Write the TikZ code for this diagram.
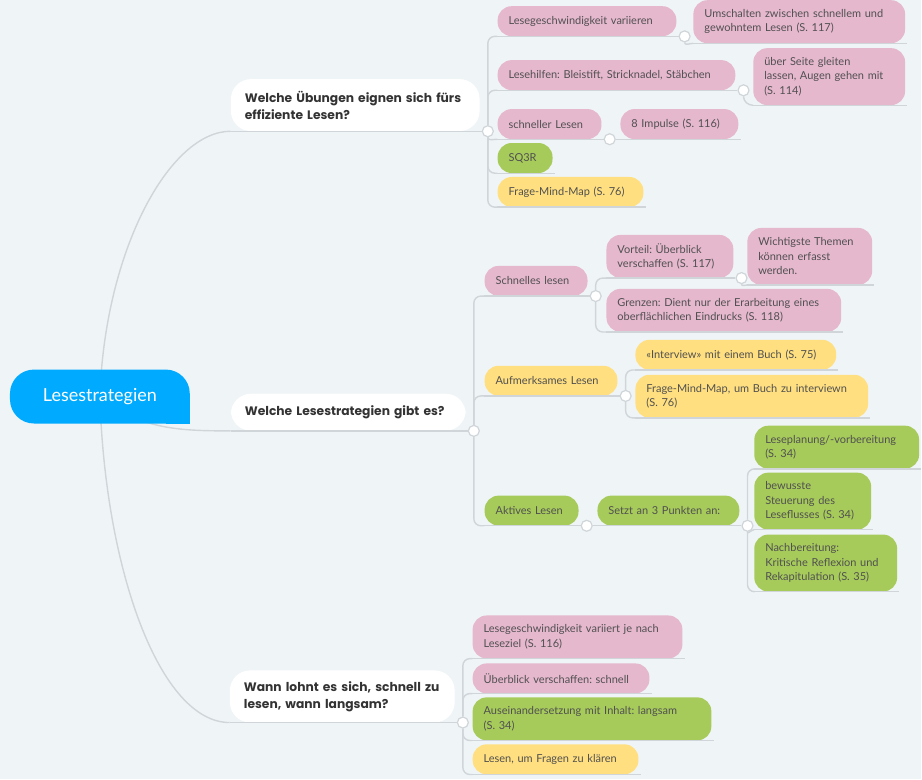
\documentclass[tikz,border=0pt]{standalone}
\usepackage{fontspec}
\setmainfont{Lato}
\newfontfamily\qfont{Poppins}
\frenchspacing
\usetikzlibrary{positioning}
\definecolor{bgcol}{RGB}{239,244,247}
\definecolor{pinkcol}{RGB}{230,184,206}
\definecolor{greencol}{RGB}{167,203,91}
\definecolor{yellowcol}{RGB}{255,223,128}
\definecolor{rootblue}{RGB}{0,170,255}
\definecolor{linecol}{RGB}{208,213,217}
\definecolor{textgray}{RGB}{80,80,80}

\begin{document}
\begin{tikzpicture}[x=1pt, y=-1pt,
    topic/.style={anchor=north west, rounded corners=14pt, inner xsep=11pt, inner ysep=2pt,
      align=left, text=textgray, font=\fontsize{11}{14.5}\selectfont},
    pinktopic/.style={topic, fill=pinkcol},
    greentopic/.style={topic, fill=greencol},
    yellowtopic/.style={topic, fill=yellowcol},
    question/.style={anchor=north west, fill=white, rounded corners=20pt, inner xsep=14pt,
      align=left, text=black!80, font=\qfont\bfseries\fontsize{12.3}{17}\selectfont},
    rootnode/.style={fill=rootblue, rounded corners=24pt, minimum width=180pt, minimum height=54pt,
      text=white, font=\fontsize{18}{20}\selectfont},
    branch/.style={draw=linecol, line width=1.4pt, rounded corners=7pt},
    knob/.style={circle, fill=white, draw=linecol, line width=1.2pt, minimum size=11pt, inner sep=0pt}]

  \fill[bgcol] (0,0) rectangle (922,780);
  \coordinate (rootc) at (100,397);

  % first level
  \node[question, minimum height=52pt, text width=221pt] (q1) at (231,79) {Welche Übungen eignen sich fürs\\effiziente Lesen?};
  \node[question, minimum height=37pt, text width=207pt] (q2) at (231,394) {Welche Lesestrategien gibt es?};
  \node[question, minimum height=52pt, text width=197pt] (q3) at (230,671) {Wann lohnt es sich, schnell zu\\lesen, wann langsam?};

  % Uebungen
  \node[pinktopic, minimum height=30pt, text width=157pt] (lgv) at (498,6) {Lesegeschwindigkeit variieren};
  \node[pinktopic, minimum height=43pt, text width=190pt] (ums) at (694,0) {Umschalten zwischen schnellem und\\gewohntem Lesen (S. 117)};
  \node[pinktopic, minimum height=30pt, text width=216pt] (lhi) at (498,60) {Lesehilfen: Bleistift, Stricknadel, Stäbchen};
  \node[pinktopic, minimum height=57pt, text width=130pt] (ueb) at (754,48) {über Seite gleiten\\lassen, Augen gehen mit\\(S. 114)};
  \node[pinktopic, minimum height=30pt, text width=82pt] (sle) at (498,109) {schneller Lesen};
  \node[pinktopic, minimum height=30pt, text width=96pt] (imp) at (621,109) {8 Impulse (S. 116)};
  \node[greentopic, minimum height=30pt, text width=33pt] (sq3) at (498,143) {SQ3R};
  \node[yellowtopic, minimum height=30pt, text width=124pt] (fmm) at (498,177) {Frage-Mind-Map (S. 76)};

  % Strategien
  \node[pinktopic, minimum height=30pt, text width=81pt] (sch) at (485,266) {Schnelles lesen};
  \node[pinktopic, minimum height=43pt, text width=105pt] (vor) at (607,235) {Vorteil: Überblick\\verschaffen (S. 117)};
  \node[pinktopic, minimum height=57pt, text width=103pt] (wic) at (748,228) {Wichtigste Themen\\können erfasst\\werden.};
  \node[pinktopic, minimum height=43pt, text width=213pt] (gre) at (607,289) {Grenzen: Dient nur der Erarbeitung eines\\oberflächlichen Eindrucks (S. 118)};
  \node[yellowtopic, minimum height=30pt, text width=111pt] (auf) at (485,366) {Aufmerksames Lesen};
  \node[yellowtopic, minimum height=30pt, text width=179pt] (int) at (636,340) {«Interview» mit einem Buch (S. 75)};
  \node[yellowtopic, minimum height=43pt, text width=211pt] (fmi) at (636,375) {Frage-Mind-Map, um Buch zu interviewn\\(S. 76)};
  \node[greentopic, minimum height=30pt, text width=72pt] (akt) at (485,496) {Aktives Lesen};
  \node[greentopic, minimum height=30pt, text width=120pt] (set) at (598,496) {Setzt an 3 Punkten an:};
  \node[greentopic, minimum height=43pt, text width=143pt] (lpl) at (755,426) {Leseplanung/-vorbereitung\\(S. 34)};
  \node[greentopic, minimum height=57pt, text width=95pt] (bew) at (755,473) {bewusste\\Steuerung des\\Leseflusses (S. 34)};
  \node[greentopic, minimum height=57pt, text width=121pt] (nac) at (755,535) {Nachbereitung:\\Kritische Reflexion und\\Rekapitulation (S. 35)};

  % schnell oder langsam
  \node[pinktopic, minimum height=43pt, text width=188pt] (lvj) at (473,616) {Lesegeschwindigkeit variiert je nach\\Leseziel (S. 116)};
  \node[pinktopic, minimum height=30pt, text width=155pt] (ubs) at (473,664) {Überblick verschaffen: schnell};
  \node[greentopic, minimum height=43pt, text width=217pt] (aus) at (473,698) {Auseinandersetzung mit Inhalt: langsam\\(S. 34)};
  \node[yellowtopic, minimum height=30pt, text width=144pt] (lfk) at (473,745) {Lesen, um Fragen zu klären};

  % root and its branches
  \draw[branch] (rootc) .. controls +(5,-147) and +(-61,0) .. (q1.south west);
  \draw[branch] (rootc) .. controls +(40,33) and +(-51,0) .. (q2.south west);
  \draw[branch] (rootc) .. controls +(5,173) and +(-70,0) .. (q3.south west);
  \node[rootnode] (root) at (rootc) {Lesestrategien};
  \fill[rootblue] (root.south east) rectangle ++(-24,-24);

  % knobs and underlines
  \foreach \n in {q1,q2,q3,lgv,lhi,sle,sch,vor,auf,akt,set}{
    \node[knob] (k\n) at ([xshift=8pt]\n.south east) {};
    \draw[branch] (\n.south west) -- (k\n);
  }
  \foreach \n in {ums,ueb,imp,sq3,fmm,wic,gre,int,fmi,lpl,bew,nac,lvj,ubs,aus,lfk}
    \draw[branch] (\n.south west) -- ([xshift=2pt]\n.south east);

  % connectors
  \foreach \c in {lgv,lhi,sq3,fmm} \draw[branch] (kq1) |- (\c.south west);
  \draw[branch] (kq1) to[out=-90, in=180] (sle.south west);
  \draw[branch] (klgv) to[out=-90, in=180] (ums.south west);
  \draw[branch] (klhi) to[out=-90, in=180] (ueb.south west);
  \draw[branch] (ksle) -- (imp.south west);
  \foreach \c in {sch,auf,akt} \draw[branch] (kq2) |- (\c.south west);
  \foreach \c in {vor,gre} \draw[branch] (ksch) |- (\c.south west);
  \draw[branch] (kvor) to[out=-90, in=180] (wic.south west);
  \foreach \c in {int,fmi} \draw[branch] (kauf) |- (\c.south west);
  \draw[branch] (kakt) -- (set.south west);
  \foreach \c in {lpl,nac} \draw[branch] (kset) |- (\c.south west);
  \draw[branch] (kset) to[out=-90, in=180] (bew.south west);
  \foreach \c in {lvj,ubs,aus,lfk} \draw[branch] (kq3) |- (\c.south west);
\end{tikzpicture}
\end{document}
